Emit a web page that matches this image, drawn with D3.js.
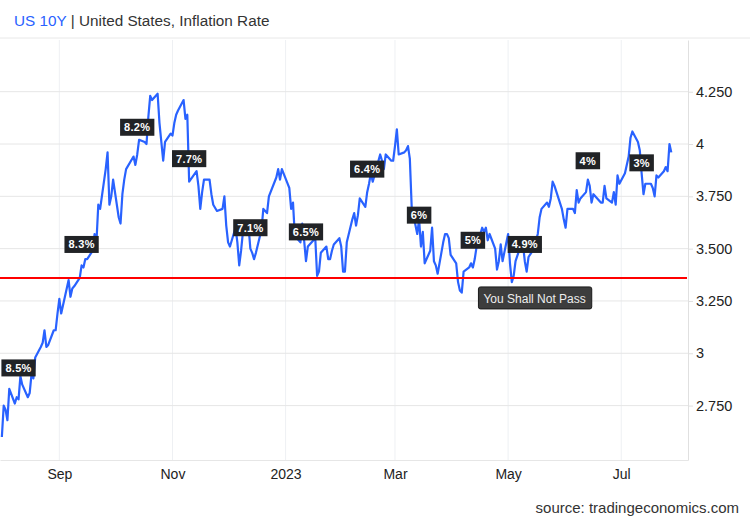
<!DOCTYPE html>
<html>
<head>
<meta charset="utf-8">
<script src="https://cdn.jsdelivr.net/npm/d3@7"></script>
<style>
  body { margin: 0; background: #fff; }
  svg { display: block; font-family: Arial, "Liberation Sans", sans-serif; }
</style>
</head>
<body>
<svg width="750" height="520"></svg>
<script>
'use strict';

// US 10Y daily closes (trading days)
var dates = [
  '2022-08-01','2022-08-02','2022-08-03','2022-08-04','2022-08-05','2022-08-08','2022-08-09','2022-08-10','2022-08-11','2022-08-12',
  '2022-08-15','2022-08-16','2022-08-17','2022-08-18','2022-08-19','2022-08-22','2022-08-23','2022-08-24','2022-08-25','2022-08-26',
  '2022-08-29','2022-08-30','2022-08-31','2022-09-01','2022-09-02','2022-09-06','2022-09-07','2022-09-08','2022-09-09','2022-09-12',
  '2022-09-13','2022-09-14','2022-09-15','2022-09-16','2022-09-19','2022-09-20','2022-09-21','2022-09-22','2022-09-23','2022-09-26',
  '2022-09-27','2022-09-28','2022-09-29','2022-09-30','2022-10-03','2022-10-04','2022-10-05','2022-10-06','2022-10-07','2022-10-11',
  '2022-10-12','2022-10-13','2022-10-14','2022-10-17','2022-10-18','2022-10-19','2022-10-20','2022-10-21','2022-10-24','2022-10-25',
  '2022-10-26','2022-10-27','2022-10-28','2022-10-31','2022-11-01','2022-11-02','2022-11-03','2022-11-04','2022-11-07','2022-11-08',
  '2022-11-09','2022-11-10','2022-11-14','2022-11-15','2022-11-16','2022-11-17','2022-11-18','2022-11-21','2022-11-22','2022-11-23',
  '2022-11-25','2022-11-28','2022-11-29','2022-11-30','2022-12-01','2022-12-02','2022-12-05','2022-12-06','2022-12-07','2022-12-08',
  '2022-12-09','2022-12-12','2022-12-13','2022-12-14','2022-12-15','2022-12-16','2022-12-19','2022-12-20','2022-12-21','2022-12-22',
  '2022-12-23','2022-12-27','2022-12-28','2022-12-29','2022-12-30','2023-01-03','2023-01-04','2023-01-05','2023-01-06','2023-01-09',
  '2023-01-10','2023-01-11','2023-01-12','2023-01-13','2023-01-17','2023-01-18','2023-01-19','2023-01-20','2023-01-23','2023-01-24',
  '2023-01-25','2023-01-26','2023-01-27','2023-01-30','2023-01-31','2023-02-01','2023-02-02','2023-02-03','2023-02-06','2023-02-07',
  '2023-02-08','2023-02-09','2023-02-10','2023-02-13','2023-02-14','2023-02-15','2023-02-16','2023-02-17','2023-02-21','2023-02-22',
  '2023-02-23','2023-02-24','2023-02-27','2023-02-28','2023-03-01','2023-03-02','2023-03-03','2023-03-06','2023-03-07','2023-03-08',
  '2023-03-09','2023-03-10','2023-03-13','2023-03-14','2023-03-15','2023-03-16','2023-03-17','2023-03-20','2023-03-21','2023-03-22',
  '2023-03-23','2023-03-24','2023-03-27','2023-03-28','2023-03-29','2023-03-30','2023-03-31','2023-04-03','2023-04-04','2023-04-05',
  '2023-04-06','2023-04-07','2023-04-10','2023-04-11','2023-04-12','2023-04-13','2023-04-14','2023-04-17','2023-04-18','2023-04-19',
  '2023-04-20','2023-04-21','2023-04-24','2023-04-25','2023-04-26','2023-04-27','2023-04-28','2023-05-01','2023-05-02','2023-05-03',
  '2023-05-04','2023-05-05','2023-05-08','2023-05-09','2023-05-10','2023-05-11','2023-05-12','2023-05-15','2023-05-16','2023-05-17',
  '2023-05-18','2023-05-19','2023-05-22','2023-05-23','2023-05-24','2023-05-25','2023-05-26','2023-05-30','2023-05-31','2023-06-01',
  '2023-06-02','2023-06-05','2023-06-06','2023-06-07','2023-06-08','2023-06-09','2023-06-12','2023-06-13','2023-06-14','2023-06-15',
  '2023-06-16','2023-06-20','2023-06-21','2023-06-22','2023-06-23','2023-06-26','2023-06-27','2023-06-28','2023-06-29','2023-06-30',
  '2023-07-03','2023-07-05','2023-07-06','2023-07-07','2023-07-10','2023-07-11','2023-07-12','2023-07-13','2023-07-14','2023-07-17',
  '2023-07-18','2023-07-19','2023-07-20','2023-07-21','2023-07-24','2023-07-25','2023-07-26','2023-07-27','2023-07-28'
];
var yields = [
  2.60,2.75,2.73,2.68,2.83,2.76,2.79,2.78,2.89,2.85,
  2.79,2.81,2.90,2.88,2.98,3.03,3.05,3.11,3.03,3.04,
  3.11,3.11,3.19,3.26,3.19,3.35,3.27,3.31,3.32,3.36,
  3.42,3.41,3.45,3.45,3.49,3.57,3.53,3.71,3.69,3.88,
  3.96,3.71,3.75,3.83,3.65,3.62,3.76,3.83,3.88,3.94,
  3.90,3.95,4.02,4.01,4.00,4.13,4.23,4.21,4.24,4.10,
  4.01,3.92,4.01,4.05,4.04,4.10,4.14,4.16,4.21,4.12,
  4.14,3.82,3.87,3.80,3.69,3.77,3.83,3.83,3.76,3.71,
  3.68,3.69,3.75,3.61,3.53,3.51,3.60,3.53,3.42,3.49,
  3.58,3.61,3.50,3.48,3.45,3.48,3.59,3.69,3.68,3.67,
  3.75,3.84,3.88,3.83,3.88,3.79,3.69,3.72,3.56,3.53,
  3.62,3.54,3.44,3.51,3.55,3.37,3.39,3.48,3.51,3.45,
  3.45,3.49,3.52,3.55,3.51,3.39,3.39,3.53,3.64,3.67,
  3.61,3.66,3.74,3.70,3.77,3.81,3.86,3.82,3.95,3.92,
  3.88,3.95,3.92,3.92,3.99,4.07,3.95,3.96,3.97,3.99,
  3.93,3.70,3.57,3.64,3.51,3.58,3.43,3.49,3.60,3.44,
  3.42,3.38,3.53,3.57,3.57,3.55,3.47,3.43,3.34,3.30,
  3.29,3.39,3.41,3.43,3.41,3.45,3.51,3.60,3.58,3.60,
  3.54,3.57,3.50,3.40,3.44,3.52,3.44,3.57,3.43,3.34,
  3.37,3.44,3.52,3.52,3.44,3.39,3.46,3.50,3.54,3.57,
  3.65,3.69,3.72,3.70,3.74,3.82,3.80,3.69,3.64,3.60,
  3.69,3.69,3.67,3.78,3.72,3.74,3.77,3.83,3.80,3.72,
  3.76,3.72,3.72,3.80,3.74,3.72,3.77,3.71,3.85,3.81,
  3.86,3.94,4.03,4.06,4.01,3.97,3.86,3.76,3.81,3.81,
  3.79,3.75,3.85,3.84,3.87,3.89,3.87,4.00,3.96
];

// inflation releases shown as labels (date, label, height on the yield axis)
var annoDates = ['2022-08-10','2022-09-13','2022-10-13','2022-11-10','2022-12-13','2023-01-12',
                 '2023-02-14','2023-03-14','2023-04-12','2023-05-10','2023-06-13','2023-07-12'];
var annoLabels = ['8.5%','8.3%','8.2%','7.7%','7.1%','6.5%','6.4%','6%','5%','4.9%','4%','3%'];
var annoValues = [2.93, 3.52, 4.08, 3.93, 3.60, 3.58, 3.88, 3.66, 3.54, 3.52, 3.92, 3.91];

// the red "line in the sand"
var limitValue = 3.36;
var limitNote = 'You Shall Not Pass';
var limitNoteDate = '2023-04-15';

var yTicks = [2.75, 3, 3.25, 3.5, 3.75, 4, 4.25];
var yTickLabels = ['2.750', '3', '3.250', '3.500', '3.750', '4', '4.250'];
var xTicks = ['2022-09-01', '2022-11-01', '2023-01-01', '2023-03-01', '2023-05-01', '2023-07-01'];
var xTickLabels = ['Sep', 'Nov', '2023', 'Mar', 'May', 'Jul'];

var parse = d3.timeParse('%Y-%m-%d');
var svg = d3.select('svg');

var plotTop = 40, plotBottom = 460, plotRight = 688;

var x = d3.scaleTime()
    .domain([parse('2022-07-31'), parse('2023-08-06')])
    .range([0, plotRight]);
var y = d3.scaleLinear()
    .domain([2.49, 4.497])
    .range([plotBottom, plotTop]);

var data = dates.map(function (d, i) { return { date: parse(d), value: yields[i] }; });

// title
var title = svg.append('text')
    .attr('x', 14).attr('y', 26)
    .attr('font-size', 15.3);
title.append('tspan').attr('fill', '#2962ff').text('US 10Y');
title.append('tspan').attr('fill', '#333').text(' | United States, Inflation Rate');

svg.append('line')
    .attr('x1', 0).attr('x2', 750).attr('y1', 38).attr('y2', 38)
    .attr('stroke', '#e8e8e8');

// grid
svg.append('g').selectAll('line')
    .data(xTicks)
    .enter().append('line')
    .attr('x1', function (d) { return x(parse(d)); })
    .attr('x2', function (d) { return x(parse(d)); })
    .attr('y1', plotTop).attr('y2', plotBottom)
    .attr('stroke', '#eef0f3');

svg.append('g').selectAll('line')
    .data(yTicks)
    .enter().append('line')
    .attr('x1', 0).attr('x2', plotRight)
    .attr('y1', function (d) { return y(d); })
    .attr('y2', function (d) { return y(d); })
    .attr('stroke', '#e6e6e6');

// axes
var yAxis = svg.append('g')
    .attr('transform', 'translate(' + plotRight + ',0)')
    .call(d3.axisRight(y).tickValues(yTicks).tickSize(5).tickSizeOuter(0).tickPadding(3)
        .tickFormat(function (d, i) { return yTickLabels[i]; }));
yAxis.select('.domain').attr('stroke', '#e0e0e0');
yAxis.selectAll('.tick line').attr('stroke', '#e0e0e0');
yAxis.selectAll('text').attr('font-size', 14.5).attr('fill', '#222').attr('font-family', 'Arial, "Liberation Sans", sans-serif');

var xAxis = svg.append('g')
    .attr('transform', 'translate(0,' + plotBottom + ')')
    .call(d3.axisBottom(x).tickValues(xTicks.map(parse)).tickSize(0).tickSizeOuter(0).tickPadding(9)
        .tickFormat(function (d, i) { return xTickLabels[i]; }));
xAxis.select('.domain').attr('stroke', '#e6e6e6');
xAxis.selectAll('text').attr('font-size', 14).attr('fill', '#222').attr('font-family', 'Arial, "Liberation Sans", sans-serif');

// yield line
var line = d3.line()
    .x(function (d) { return x(d.date); })
    .y(function (d) { return y(d.value); });

svg.append('path')
    .datum(data)
    .attr('d', line)
    .attr('fill', 'none')
    .attr('stroke', '#2962ff')
    .attr('stroke-width', 2.2)
    .attr('stroke-linejoin', 'round');

// red limit line
svg.append('line')
    .attr('x1', 0).attr('x2', plotRight - 1)
    .attr('y1', y(limitValue)).attr('y2', y(limitValue))
    .attr('stroke', '#ff0000')
    .attr('stroke-width', 2);

// inflation labels
var annoData = annoDates.map(function (d, i) {
    return { date: parse(d), label: annoLabels[i], value: annoValues[i] };
});
var annos = svg.append('g').selectAll('g')
    .data(annoData)
    .enter().append('g')
    .attr('transform', function (d) { return 'translate(' + x(d.date) + ',' + y(d.value) + ')'; });

annos.append('rect').attr('fill', '#212326');
annos.append('text')
    .attr('text-anchor', 'middle')
    .attr('dy', '0.36em')
    .attr('font-size', 11)
    .attr('font-weight', 'bold')
    .attr('letter-spacing', 0.3)
    .attr('fill', '#fff')
    .text(function (d) { return d.label; });
annos.each(function () {
    var g = d3.select(this);
    var w = g.select('text').node().getComputedTextLength() + 8;
    g.select('rect').attr('x', -w / 2).attr('y', -8.5).attr('width', w).attr('height', 17);
});

// note under the red line
var note = svg.append('g')
    .attr('transform', 'translate(' + x(parse(limitNoteDate)) + ',' + (y(limitValue) + 9) + ')');
var noteRect = note.append('rect')
    .attr('rx', 2)
    .attr('fill', '#3d3d3d')
    .attr('stroke', '#1a1a1a');
var noteText = note.append('text')
    .attr('x', 5).attr('y', 11.5)
    .attr('dy', '0.35em')
    .attr('font-size', 12)
    .attr('fill', '#eee')
    .text(limitNote);
noteRect.attr('width', noteText.node().getComputedTextLength() + 11).attr('height', 22);

// source
svg.append('text')
    .attr('x', 739).attr('y', 513)
    .attr('text-anchor', 'end')
    .attr('font-size', 15)
    .attr('fill', '#333')
    .text('source: tradingeconomics.com');
</script>
</body>
</html>
